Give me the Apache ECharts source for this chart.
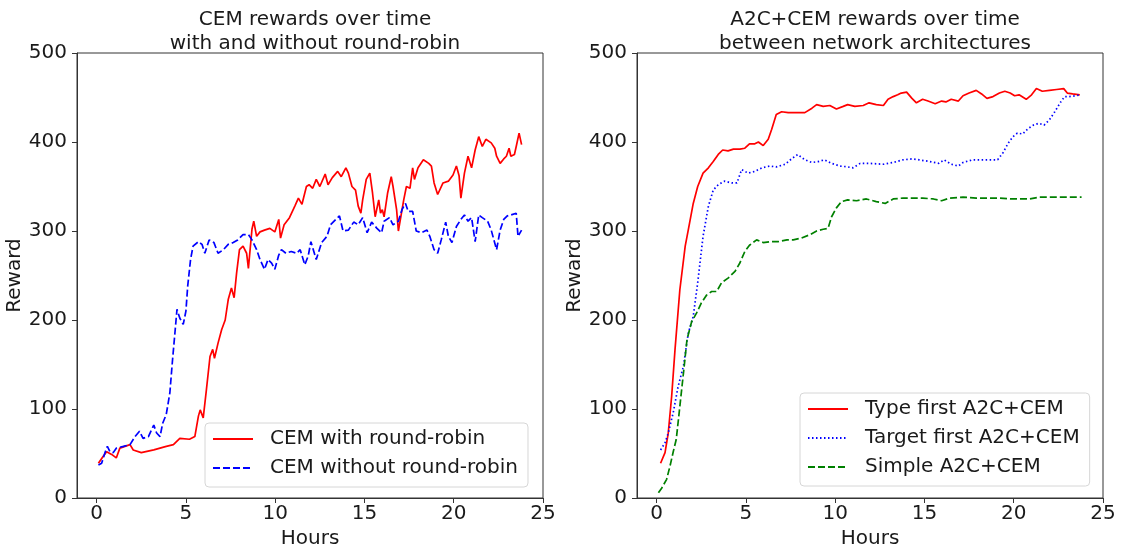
<!DOCTYPE html>
<html><head><meta charset="utf-8">
<script src="https://cdn.jsdelivr.net/npm/echarts@6/dist/echarts.min.js"></script>
<style>html,body{margin:0;padding:0;background:#fff}#c{width:1125px;height:548px}</style>
</head><body><div id="c"></div>
<script>
// ---- Data ----
const xTicks = [0, 5, 10, 15, 20, 25];
const yTicks = [0, 100, 200, 300, 400, 500];

// Left: CEM with round-robin
const rrHours = [0.1,0.37,0.56,0.84,1.1,1.3,1.87,2.05,2.5,3.2,3.9,4.3,4.66,5.2,5.5,5.7,5.8,5.97,6.15,6.35,6.5,6.6,6.8,7.0,7.2,7.37,7.55,7.7,7.84,8.0,8.2,8.4,8.5,8.7,8.8,8.96,9.15,9.4,9.7,9.98,10.2,10.3,10.5,10.8,11.1,11.3,11.5,11.75,11.9,12.1,12.3,12.5,12.8,12.96,13.2,13.5,13.7,13.96,14.1,14.3,14.5,14.65,14.8,14.9,15.1,15.3,15.45,15.6,15.8,15.9,16.0,16.1,16.3,16.5,16.6,16.8,16.9,17.2,17.35,17.55,17.7,17.8,18.0,18.3,18.6,18.75,18.9,19.1,19.4,19.7,19.96,20.15,20.3,20.4,20.6,20.8,21.0,21.2,21.4,21.6,21.8,22.1,22.3,22.4,22.6,22.8,22.95,23.1,23.2,23.4,23.5,23.66,23.8];
const rrReward = [39,47,52,49,45,56,60,54,51,54,58,60,67,66,69,92,99,90,122,159,167,157,174,189,200,223,236,225,253,279,283,275,258,302,311,294,299,301,303,299,313,292,307,315,328,337,330,350,352,348,358,350,364,352,360,367,361,371,365,350,346,328,320,335,358,365,343,316,335,320,324,316,343,361,350,324,300,335,350,348,371,358,371,380,376,373,354,341,354,356,363,373,362,337,365,384,371,391,406,395,403,399,393,384,376,381,384,393,384,386,395,410,397];

// Left: CEM without round-robin
const norrHours = [0.1,0.28,0.47,0.6,0.75,0.93,1.1,1.5,1.87,2.15,2.4,2.6,2.9,3.2,3.36,3.55,3.7,3.9,4.1,4.25,4.4,4.5,4.66,4.85,5.0,5.1,5.26,5.4,5.7,5.9,6.06,6.3,6.57,6.8,7.1,7.37,7.65,7.9,8.2,8.5,8.7,8.96,9.15,9.4,9.6,9.8,9.98,10.2,10.35,10.6,10.9,11.2,11.4,11.66,11.85,12.0,12.3,12.6,12.9,13.1,13.3,13.6,13.8,14.1,14.4,14.65,14.9,15.15,15.4,15.7,15.96,16.1,16.4,16.6,16.9,17.1,17.3,17.45,17.7,17.9,18.2,18.5,18.66,18.9,19.1,19.3,19.55,19.7,19.9,20.15,20.4,20.6,20.8,21.0,21.2,21.4,21.6,21.9,22.1,22.4,22.6,22.8,23.0,23.2,23.5,23.6,23.8];
const norrReward = [37,39,51,58,52,51,56,58,60,69,75,67,69,82,73,69,84,94,118,155,189,212,202,195,210,238,268,283,288,285,275,290,287,275,279,285,287,290,296,296,290,279,268,257,268,264,257,273,279,275,277,275,279,262,272,288,268,287,294,307,311,317,300,301,310,307,315,298,310,303,298,311,315,307,311,324,331,322,322,300,298,301,294,279,275,290,310,294,287,305,313,318,311,315,288,318,315,311,301,279,301,313,317,318,320,294,301];

// Right: Type first A2C+CEM
const typeHours = [0.22,0.47,0.65,0.84,1.03,1.3,1.6,1.77,2.05,2.3,2.6,2.9,3.17,3.45,3.7,4.0,4.3,4.66,4.94,5.2,5.5,5.7,5.97,6.25,6.44,6.7,7.0,7.37,7.84,8.3,8.7,8.96,9.33,9.7,10.07,10.45,10.7,11.1,11.57,11.9,12.3,12.7,12.96,13.25,13.5,13.7,14.0,14.3,14.55,14.9,15.2,15.6,15.96,16.2,16.5,16.9,17.16,17.5,17.9,18.2,18.5,18.84,19.2,19.5,19.8,20.05,20.3,20.7,21.0,21.27,21.6,22.0,22.4,22.8,23.0,23.3,23.7];
const typeReward = [39,51,73,114,167,234,283,301,331,350,365,371,378,386,391,390,392,392,393,398,398,400,396,403,414,431,434,433,433,433,438,442,440,441,437,440,442,440,441,444,442,441,448,451,453,455,456,449,444,448,446,443,446,445,448,446,452,455,458,454,449,451,455,457,455,452,453,448,453,460,457,458,459,460,455,454,453];

// Right: Target first A2C+CEM
const targetHours = [0.22,0.47,0.65,0.93,1.2,1.5,1.77,2.05,2.3,2.6,2.9,3.17,3.45,3.8,4.2,4.5,4.76,5.13,5.5,5.9,6.35,6.7,7.2,7.55,7.9,8.3,8.7,9.05,9.4,9.8,10.26,10.7,11.0,11.4,11.9,12.7,13.25,13.8,14.3,14.7,15.3,15.8,16.1,16.5,16.9,17.16,17.7,18.3,18.84,19.1,19.4,19.7,19.96,20.2,20.5,20.8,21.1,21.4,21.7,22.0,22.3,22.6,22.85,23.1,23.5,23.7];
const targetReward = [54,62,73,96,125,148,185,204,242,294,328,346,352,356,354,354,369,365,367,371,373,372,375,381,386,380,377,378,380,376,373,372,371,376,376,375,377,380,381,380,378,376,380,375,373,377,380,380,380,380,388,399,406,410,409,415,419,421,419,425,434,444,451,451,452,453];

// Right: Simple A2C+CEM
const simpleHours = [0.1,0.28,0.56,0.75,0.93,1.1,1.3,1.5,1.7,1.96,2.24,2.5,2.8,3.08,3.36,3.64,4.0,4.4,4.66,4.94,5.2,5.6,5.97,6.35,6.8,7.3,7.65,8.1,8.6,8.96,9.33,9.6,9.8,10.07,10.35,10.7,11.2,11.75,12.3,12.8,13.25,13.8,14.4,14.9,15.5,15.96,16.4,17.16,17.9,18.66,19.2,19.8,20.3,20.9,21.4,22.0,22.8,23.8];
const simpleReward = [6,11,21,36,52,66,103,140,178,198,208,219,228,232,232,242,247,255,264,277,284,290,287,288,288,290,290,292,296,300,302,303,316,326,333,335,334,336,333,331,336,337,337,337,336,334,337,338,337,337,337,336,336,336,338,338,338,338];

const titles = ["CEM rewards over time\nwith and without round-robin", "A2C+CEM rewards over time\nbetween network architectures"];
const leftNames = ["CEM with round-robin", "CEM without round-robin"];
const rightNames = ["Type first A2C+CEM", "Target first A2C+CEM", "Simple A2C+CEM"];
const xName = "Hours", yName = "Reward";

// ---- Build ----
const zip = (xs, ys) => xs.map((x, i) => [x, ys[i]]);
const FONT = "DejaVu Sans";
const txt = {fontFamily: FONT, fontSize: 20, color: "#1a1a1a"};

function xAxis(gi) {
  return {
    type: "value", gridIndex: gi, min: -1.1, max: 25,
    name: xName, nameLocation: "middle", nameGap: 30, nameTextStyle: txt,
    axisLine: {show: true, onZero: false, lineStyle: {color: "#333", width: 1}},
    axisTick: {show: true, length: 5, lineStyle: {color: "#333"}, customValues: xTicks},
    axisLabel: Object.assign({margin: 6, customValues: xTicks}, txt),
    splitLine: {show: false}
  };
}
function yAxis(gi) {
  return {
    type: "value", gridIndex: gi, min: yTicks[0], max: yTicks[yTicks.length - 1], interval: 100,
    name: yName, nameLocation: "middle", nameGap: 50, nameRotate: 90, nameTextStyle: txt,
    axisLine: {show: true, onZero: false, lineStyle: {color: "#333", width: 1}},
    axisTick: {show: true, length: 5, lineStyle: {color: "#333"}},
    axisLabel: Object.assign({margin: 10}, txt),
    splitLine: {show: false}
  };
}
function line(name, xs, ys, color, type, gi) {
  return {
    type: "line", name, xAxisIndex: gi, yAxisIndex: gi, data: zip(xs, ys),
    showSymbol: false, symbol: "none", smooth: false, animation: false,
    lineStyle: {color, width: 1.7, type}, itemStyle: {color}
  };
}
const legendBase = {
  orient: "vertical", backgroundColor: "rgba(255,255,255,0.8)",
  borderColor: "#d6d6d6", borderWidth: 1, borderRadius: 4,
  itemWidth: 40, itemHeight: 14, itemGap: 9,
  itemStyle: {opacity: 0},
  textStyle: Object.assign({padding: [0, 0, 0, 12], lineHeight: 20}, txt),
  padding: [6, 10, 9, 7], selectedMode: false
};

const chart = echarts.init(document.getElementById("c"), null, {renderer: "canvas"});
chart.setOption({
  animation: false,
  title: [
    {text: titles[0], left: 310, top: 3, textAlign: "center", textStyle: Object.assign({}, txt, {lineHeight: 24, fontWeight: "normal"})},
    {text: titles[1], left: 870, top: 3, textAlign: "center", textStyle: Object.assign({}, txt, {lineHeight: 24, fontWeight: "normal"})}
  ],
  grid: [
    {left: 77, right: 582, top: 53, bottom: 50, outerBoundsMode: "none", containLabel: false, show: true, borderColor: "#333", borderWidth: 1, backgroundColor: "transparent"},
    {left: 637, right: 22, top: 53, bottom: 50, outerBoundsMode: "none", containLabel: false, show: true, borderColor: "#333", borderWidth: 1, backgroundColor: "transparent"}
  ],
  xAxis: [xAxis(0), xAxis(1)],
  yAxis: [yAxis(0), yAxis(1)],
  legend: [
    Object.assign({}, legendBase, {left: 205, top: 423, data: leftNames}),
    Object.assign({}, legendBase, {left: 800, top: 393, data: rightNames})
  ],
  series: [
    line(leftNames[0], rrHours, rrReward, "#ff0000", "solid", 0),
    line(leftNames[1], norrHours, norrReward, "#0000ff", [7, 3], 0),
    line(rightNames[0], typeHours, typeReward, "#ff0000", "solid", 1),
    line(rightNames[1], targetHours, targetReward, "#0000ff", [1.5, 2.5], 1),
    line(rightNames[2], simpleHours, simpleReward, "#008000", [7, 3], 1)
  ]
});
</script></body></html>
